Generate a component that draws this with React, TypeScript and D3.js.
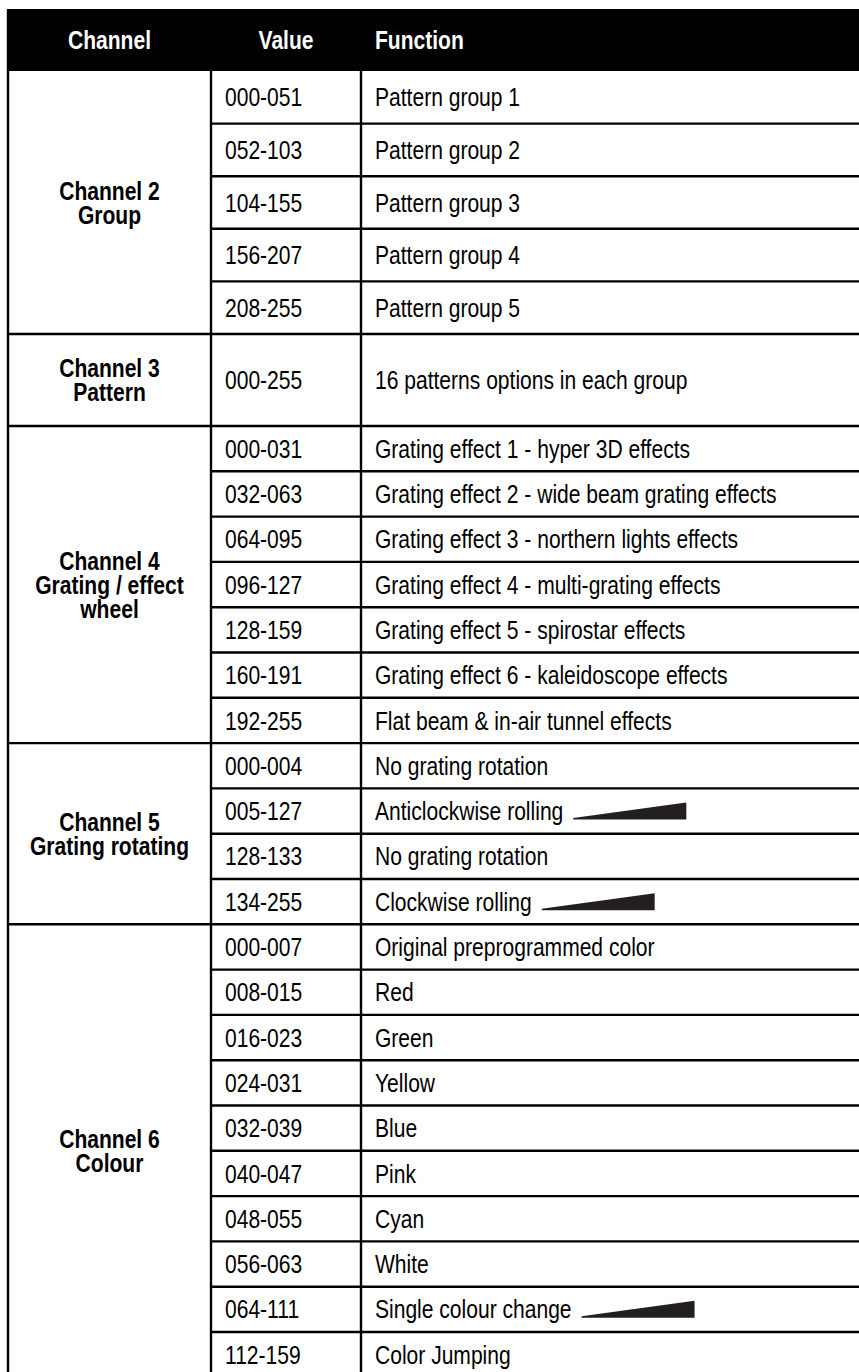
import React, { useEffect, useRef } from "react";
import * as d3 from "d3";

const headers = ["Channel", "Value", "Function"];

const channelLabels = [
  ["Channel 2", "Group"],
  ["Channel 3", "Pattern"],
  ["Channel 4", "Grating / effect", "wheel"],
  ["Channel 5", "Grating rotating"],
  ["Channel 6", "Colour"],
];

const ch2Values = ["000-051", "052-103", "104-155", "156-207", "208-255"];
const ch2Functions = ["Pattern group 1", "Pattern group 2", "Pattern group 3", "Pattern group 4", "Pattern group 5"];

const ch3Values = ["000-255"];
const ch3Functions = ["16 patterns options in each group"];

const ch4Values = ["000-031", "032-063", "064-095", "096-127", "128-159", "160-191", "192-255"];
const ch4Functions = [
  "Grating effect 1 - hyper 3D effects",
  "Grating effect 2 - wide beam grating effects",
  "Grating effect 3 - northern lights effects",
  "Grating effect 4 - multi-grating effects",
  "Grating effect 5 - spirostar effects",
  "Grating effect 6 - kaleidoscope effects",
  "Flat beam & in-air tunnel effects",
];

const ch5Values = ["000-004", "005-127", "128-133", "134-255"];
const ch5Functions = ["No grating rotation", "Anticlockwise rolling", "No grating rotation", "Clockwise rolling"];

const ch6Values = ["000-007", "008-015", "016-023", "024-031", "032-039", "040-047", "048-055", "056-063", "064-111", "112-159"];
const ch6Functions = [
  "Original preprogrammed color",
  "Red",
  "Green",
  "Yellow",
  "Blue",
  "Pink",
  "Cyan",
  "White",
  "Single colour change",
  "Color Jumping",
];

// rows whose function text is followed by a ramp wedge
const rampRows = ["005-127", "134-255", "064-111"];

const valueGroups = [ch2Values, ch3Values, ch4Values, ch5Values, ch6Values];
const functionGroups = [ch2Functions, ch3Functions, ch4Functions, ch5Functions, ch6Functions];

export default function App() {
  const ref = useRef<SVGSVGElement | null>(null);
  const width = 859;
  const height = 1372;

  useEffect(() => {
    const svg = d3.select(ref.current);
    svg.selectAll("*").remove();

    const font = "'Liberation Sans', Arial, sans-serif";
    const fs = 26;
    const k = 0.81; // horizontal squeeze to mimic a narrow face
    const sx = (x: number) => x / k;
    const squeeze = `scale(${k},1)`;
    const left = 8;
    const right = 880;
    const top = 9;
    const headerH = 62;
    const colX = [left, 211, 361];
    const rowH = [52.6, 92, 45.3, 45.3, 45.3];
    const lineW = 2.4;

    // build row list
    type Row = { g: number; value: string; fn: string; y0: number; y1: number; first: boolean };
    const rows: Row[] = [];
    const groups: { y0: number; y1: number }[] = [];
    let y = top + headerH;
    valueGroups.forEach((vals, g) => {
      const gy0 = y;
      vals.forEach((v, i) => {
        rows.push({ g, value: v, fn: functionGroups[g][i], y0: y, y1: y + rowH[g], first: i === 0 });
        y += rowH[g];
      });
      groups.push({ y0: gy0, y1: y });
    });

    const g = svg.append("g").attr("font-family", font).attr("font-size", fs);

    // header
    g.append("rect")
      .attr("x", left - 1)
      .attr("y", top)
      .attr("width", right - left)
      .attr("height", headerH)
      .attr("fill", "#000");

    const hy = top + headerH / 2;
    const headerPos = [
      { x: (colX[0] + colX[1]) / 2, anchor: "middle" },
      { x: (colX[1] + colX[2]) / 2, anchor: "middle" },
      { x: colX[2] + 14, anchor: "start" },
    ];
    g.selectAll(".hdr")
      .data(headers)
      .join("text")
      .attr("class", "hdr")
      .attr("transform", squeeze)
      .attr("x", (d, i) => sx(headerPos[i].x))
      .attr("y", hy)
      .attr("dy", "0.35em")
      .attr("text-anchor", (d, i) => headerPos[i].anchor)
      .attr("font-weight", "700")
      .attr("fill", "#fff")
      .text((d) => d);

    // horizontal lines
    g.selectAll(".hline")
      .data(rows.slice(1))
      .join("line")
      .attr("class", "hline")
      .attr("x1", (d) => (d.first ? left : colX[1]))
      .attr("x2", right)
      .attr("y1", (d) => d.y0)
      .attr("y2", (d) => d.y0)
      .attr("stroke", "#000")
      .attr("stroke-width", lineW);

    // vertical lines
    g.selectAll(".vline")
      .data(colX)
      .join("line")
      .attr("class", "vline")
      .attr("x1", (d) => d)
      .attr("x2", (d) => d)
      .attr("y1", (d, i) => (i === 0 ? top : top + headerH))
      .attr("y2", height + 20)
      .attr("stroke", "#000")
      .attr("stroke-width", lineW);

    // values
    g.selectAll(".val")
      .data(rows)
      .join("text")
      .attr("class", "val")
      .attr("transform", squeeze)
      .attr("x", sx(colX[1] + 14))
      .attr("y", (d) => (d.y0 + d.y1) / 2)
      .attr("dy", "0.35em")
      .attr("fill", "#000")
      .text((d) => d.value);

    // functions
    const fnText = g
      .selectAll(".fn")
      .data(rows)
      .join("text")
      .attr("class", "fn")
      .attr("transform", squeeze)
      .attr("x", sx(colX[2] + 14))
      .attr("y", (d) => (d.y0 + d.y1) / 2)
      .attr("dy", "0.35em")
      .attr("fill", "#000")
      .text((d) => d.fn);

    // ramp wedges
    fnText
      .filter((d) => rampRows.includes(d.value))
      .each(function (d) {
        const len = (this as SVGTextElement).getComputedTextLength() * k;
        const x0 = colX[2] + 14 + len + 10;
        const x1 = x0 + 113;
        const cy = (d.y0 + d.y1) / 2;
        const yb = cy + 8.5;
        g.append("path")
          .attr("d", `M${x0},${yb}L${x0},${yb - 1.5}L${x1},${yb - 17}L${x1},${yb}Z`)
          .attr("fill", "#231f20");
      });

    // channel labels
    const lh = 24;
    channelLabels.forEach((lines, gi) => {
      const cy = (groups[gi].y0 + groups[gi].y1) / 2;
      g.append("text")
        .attr("transform", squeeze)
        .attr("text-anchor", "middle")
        .attr("font-weight", "700")
        .attr("fill", "#000")
        .selectAll("tspan")
        .data(lines)
        .join("tspan")
        .attr("x", sx((colX[0] + colX[1]) / 2))
        .attr("y", (d, i) => cy + (i - (lines.length - 1) / 2) * lh)
        .attr("dy", "0.35em")
        .text((d) => d);
    });
  }, []);

  return (
    <svg
      ref={ref}
      width={width}
      height={height}
      style={{ position: "absolute", left: 0, top: 0, background: "#fff", overflow: "hidden" }}
    />
  );
}
